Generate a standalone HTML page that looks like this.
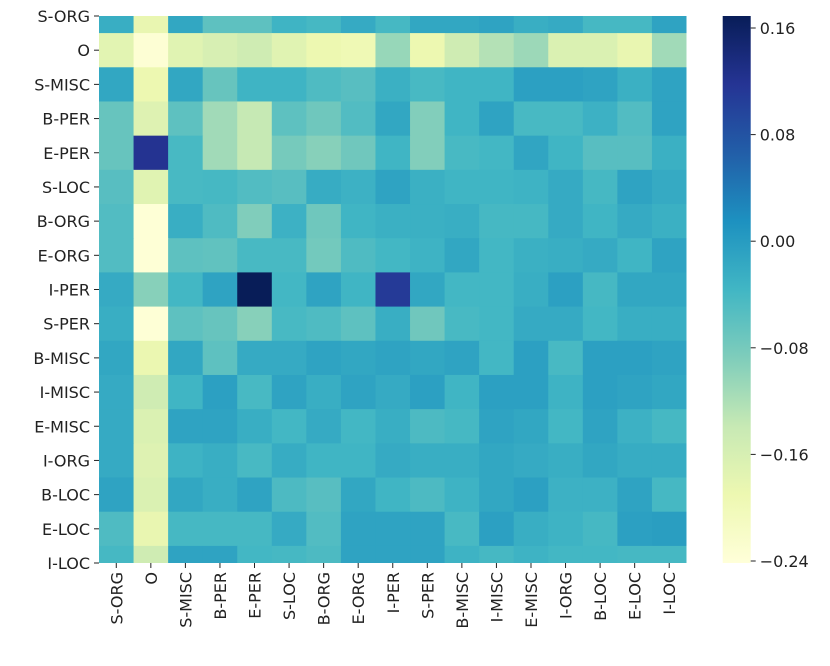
<!DOCTYPE html>
<html><head><meta charset="utf-8"><style>
html,body{margin:0;padding:0;background:#fff;}
svg text{font-family:"DejaVu Sans","Liberation Sans",sans-serif;font-size:16px;fill:#222;}
</style></head><body>
<svg id="chart" width="830" height="661" xmlns="http://www.w3.org/2000/svg">
<defs><linearGradient id="cbgrad" x1="0" y1="1" x2="0" y2="0"></linearGradient>
<clipPath id="plotclip"><rect x="99" y="16" width="587.5" height="547"/></clipPath></defs>
<g id="cells" clip-path="url(#plotclip)"></g>
<g id="yaxis"></g>
<g id="xaxis"></g>
<g id="cbar"></g>
</svg>
<script>
const labels = ["S-ORG","O","S-MISC","B-PER","E-PER","S-LOC","B-ORG","E-ORG","I-PER","S-PER","B-MISC","I-MISC","E-MISC","I-ORG","B-LOC","E-LOC","I-LOC"];
const row0 = [-0.025,-0.185,-0.015,-0.06,-0.06,-0.033,-0.04,-0.02,-0.04,-0.015,-0.015,-0.01,-0.025,-0.02,-0.04,-0.04,-0.01];
const row1 = [-0.175,-0.235,-0.172,-0.16,-0.15,-0.172,-0.19,-0.195,-0.105,-0.19,-0.15,-0.125,-0.108,-0.165,-0.165,-0.185,-0.112];
const row2 = [-0.015,-0.19,-0.015,-0.068,-0.033,-0.033,-0.048,-0.055,-0.028,-0.042,-0.035,-0.035,-0.006,-0.006,-0.01,-0.028,-0.01];
const row3 = [-0.068,-0.17,-0.06,-0.112,-0.138,-0.06,-0.074,-0.05,-0.015,-0.09,-0.035,-0.01,-0.042,-0.042,-0.03,-0.05,-0.01];
const row4 = [-0.068,0.12,-0.042,-0.112,-0.138,-0.08,-0.093,-0.075,-0.035,-0.09,-0.042,-0.038,-0.013,-0.035,-0.055,-0.055,-0.028];
const row5 = [-0.055,-0.172,-0.042,-0.04,-0.05,-0.055,-0.022,-0.03,-0.01,-0.028,-0.035,-0.035,-0.032,-0.02,-0.04,-0.01,-0.02];
const row6 = [-0.05,-0.238,-0.025,-0.048,-0.088,-0.03,-0.074,-0.035,-0.028,-0.028,-0.025,-0.04,-0.04,-0.02,-0.035,-0.02,-0.028];
const row7 = [-0.05,-0.238,-0.06,-0.063,-0.042,-0.042,-0.078,-0.048,-0.038,-0.032,-0.015,-0.038,-0.028,-0.025,-0.02,-0.035,-0.01];
const row8 = [-0.02,-0.093,-0.038,-0.01,0.169,-0.038,-0.01,-0.035,0.11,-0.015,-0.038,-0.038,-0.025,-0.006,-0.04,-0.015,-0.015];
const row9 = [-0.025,-0.238,-0.06,-0.068,-0.093,-0.042,-0.048,-0.06,-0.025,-0.075,-0.042,-0.038,-0.02,-0.02,-0.038,-0.025,-0.025];
const row10 = [-0.015,-0.188,-0.015,-0.06,-0.02,-0.02,-0.01,-0.015,-0.01,-0.015,-0.01,-0.038,-0.006,-0.042,-0.006,-0.006,-0.01];
const row11 = [-0.02,-0.15,-0.035,-0.006,-0.042,-0.01,-0.025,-0.01,-0.02,-0.006,-0.035,-0.006,-0.006,-0.032,-0.006,-0.01,-0.015];
const row12 = [-0.02,-0.165,-0.01,-0.01,-0.025,-0.038,-0.02,-0.038,-0.025,-0.046,-0.04,-0.01,-0.015,-0.038,-0.01,-0.03,-0.04];
const row13 = [-0.02,-0.17,-0.032,-0.025,-0.042,-0.022,-0.035,-0.035,-0.02,-0.025,-0.025,-0.015,-0.02,-0.025,-0.015,-0.022,-0.022];
const row14 = [-0.01,-0.165,-0.015,-0.025,-0.01,-0.046,-0.055,-0.015,-0.035,-0.046,-0.032,-0.015,-0.006,-0.03,-0.03,-0.01,-0.04];
const row15 = [-0.048,-0.185,-0.04,-0.04,-0.04,-0.02,-0.05,-0.01,-0.01,-0.01,-0.042,-0.006,-0.025,-0.032,-0.04,-0.006,-0.003];
const row16 = [-0.04,-0.15,-0.01,-0.01,-0.038,-0.04,-0.046,-0.01,-0.01,-0.01,-0.032,-0.04,-0.032,-0.038,-0.038,-0.04,-0.04];
const matrix = [row0,row1,row2,row3,row4,row5,row6,row7,row8,row9,row10,row11,row12,row13,row14,row15,row16];
const cbTicks = [0.16,0.08,0.00,-0.08,-0.16,-0.24];
const cbTickLabels = ["0.16","0.08","0.00","\u22120.08","\u22120.16","\u22120.24"];
const vmin = -0.2415, vmax = 0.169;

const stops = ["#ffffd9","#edf8b1","#c7e9b4","#7fcdbb","#41b6c4","#1d91c0","#225ea8","#253494","#081d58"];
function hex(c){return [parseInt(c.slice(1,3),16),parseInt(c.slice(3,5),16),parseInt(c.slice(5,7),16)];}
function cmap(v){
  let t=(v-vmin)/(vmax-vmin); t=Math.max(0,Math.min(1,t));
  const p=t*(stops.length-1), i=Math.min(Math.floor(p),stops.length-2), f=p-i;
  const a=hex(stops[i]), b=hex(stops[i+1]);
  return "rgb("+a.map((x,k)=>Math.round(x+(b[k]-x)*f)).join(",")+")";
}
const NS="http://www.w3.org/2000/svg";
const X0=99, X1=686.5, Y0=16, Y1=563;
const n=labels.length;
const cw=(X1-X0)/n, rh=(Y1-Y0)/(n-1);
function xPos(j){return X0+j*cw;}
function yCenter(i){return Y0+i*rh;}
function mk(tag,attrs,parent){const e=document.createElementNS(NS,tag);for(const k in attrs)e.setAttribute(k,attrs[k]);parent.appendChild(e);return e;}

const cells=document.getElementById('cells');
matrix.forEach((row,i)=>{row.forEach((v,j)=>{
  const r=mk('rect',{x:xPos(j),y:yCenter(i)-rh/2,width:cw+0.5,height:rh+0.5,fill:cmap(v)},cells);
  
  
});});

const ya=document.getElementById('yaxis');
labels.forEach((l,i)=>{
  const y=yCenter(i);
  const tk=mk('line',{x1:94,x2:99,y1:y,y2:y,stroke:'#222','stroke-width':1},ya);
  
  
  const t=mk('text',{x:90,y:y+6,'text-anchor':'end'},ya);
  t.textContent=l;
  
  
});
const xa=document.getElementById('xaxis');
labels.forEach((l,j)=>{
  const x=xPos(j)+cw/2;
  const tk=mk('line',{x1:x,x2:x,y1:Y1,y2:Y1+5,stroke:'#222','stroke-width':1},xa);
  
  
  const t=mk('text',{x:0,y:0,'text-anchor':'end',transform:'translate('+(x+6)+','+(Y1+9)+') rotate(-90)'},xa);
  t.textContent=l;
  
  
});

const grad=document.getElementById('cbgrad');
stops.forEach((c,k)=>{mk('stop',{offset:(k/(stops.length-1)),'stop-color':c},grad);});
const cb=document.getElementById('cbar');
const CBX=722.7, CBW=28, CBT=16, CBB=563;
const bar=mk('rect',{x:CBX,y:CBT,width:CBW,height:CBB-CBT,fill:'url(#cbgrad)'},cb);


function cbY(v){return CBB-(v-vmin)/(vmax-vmin)*(CBB-CBT);}
cbTicks.forEach((v,k)=>{
  const y=cbY(v);
  const tk=mk('line',{x1:CBX+CBW,x2:CBX+CBW+5,y1:y,y2:y,stroke:'#222','stroke-width':1},cb);
  
  
  const t=mk('text',{x:CBX+CBW+9,y:y+6},cb);
  t.textContent=cbTickLabels[k];
  
  
});
</script>
</body></html>
